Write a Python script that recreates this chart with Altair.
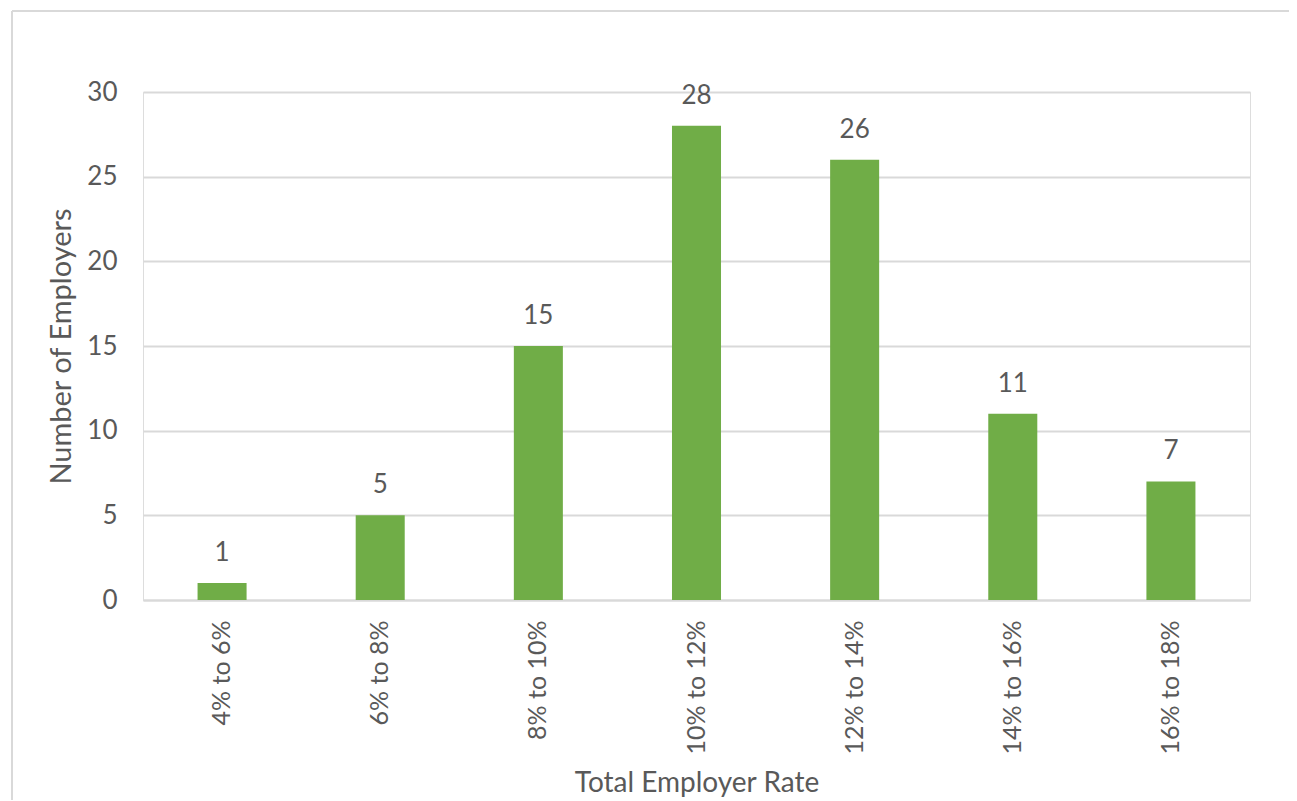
import altair as alt
import pandas as pd

categories = ["4% to 6%", "6% to 8%", "8% to 10%", "10% to 12%", "12% to 14%", "14% to 16%", "16% to 18%"]
employers = [1, 5, 15, 28, 26, 11, 7]

df = pd.DataFrame({"rate": categories, "count": employers})

FONT = "Lato"
TXT = "#595959"
GRID = "#d9d9d9"
W, H = 1107, 508

x_enc = alt.X("rate:N", sort=categories,
              scale=alt.Scale(paddingInner=0.69, paddingOuter=0.345),
              axis=alt.Axis(title="Total Employer Rate", labelAngle=-90, labelPadding=20,
                            labelFont=FONT, labelFontSize=25, labelColor=TXT,
                            titleFont=FONT, titleFontSize=28, titleColor=TXT, titleFontWeight="normal",
                            titlePadding=16, ticks=False, domainColor=GRID, domainWidth=2, grid=False))
y_enc = alt.Y("count:Q", scale=alt.Scale(domain=[0, 30], nice=False),
              axis=alt.Axis(title="Number of Employers", values=[0, 5, 10, 15, 20, 25, 30],
                            labelFont=FONT, labelFontSize=26, labelColor=TXT, labelPadding=26,
                            titleFont=FONT, titleFontSize=29, titleColor=TXT, titleFontWeight="normal",
                            titlePadding=10, ticks=False, domain=False,
                            gridColor=GRID, gridWidth=2))

# chart frame (top and left edges; the right and bottom fall outside the picture)
frame_top = alt.Chart(df).mark_rule(stroke=GRID, strokeWidth=2).encode(
    x=alt.value(-131), x2=alt.value(1297 - 143 + 60), y=alt.value(-81))
frame_left = alt.Chart(df).mark_rule(stroke=GRID, strokeWidth=2).encode(
    x=alt.value(-131), y=alt.value(-81), y2=alt.value(801 - 92 + 60))

bars = alt.Chart(df).mark_bar(color="#70AD47").encode(x=x_enc, y=y_enc)
labels = alt.Chart(df).mark_text(baseline="bottom", dy=-17, font=FONT, fontSize=26, color=TXT).encode(
    x=alt.X("rate:N", sort=categories), y="count:Q", text="count:Q")

chart = alt.layer(frame_top, frame_left, bars, labels).properties(
    width=W, height=H,
    autosize=alt.AutoSizeParams(type="none"),
    padding={"left": 135, "top": 84, "right": 39, "bottom": 200},
).configure_view(stroke=None).configure(background="white")

chart.save("out.html", embed_options={"renderer": "svg", "actions": False})
